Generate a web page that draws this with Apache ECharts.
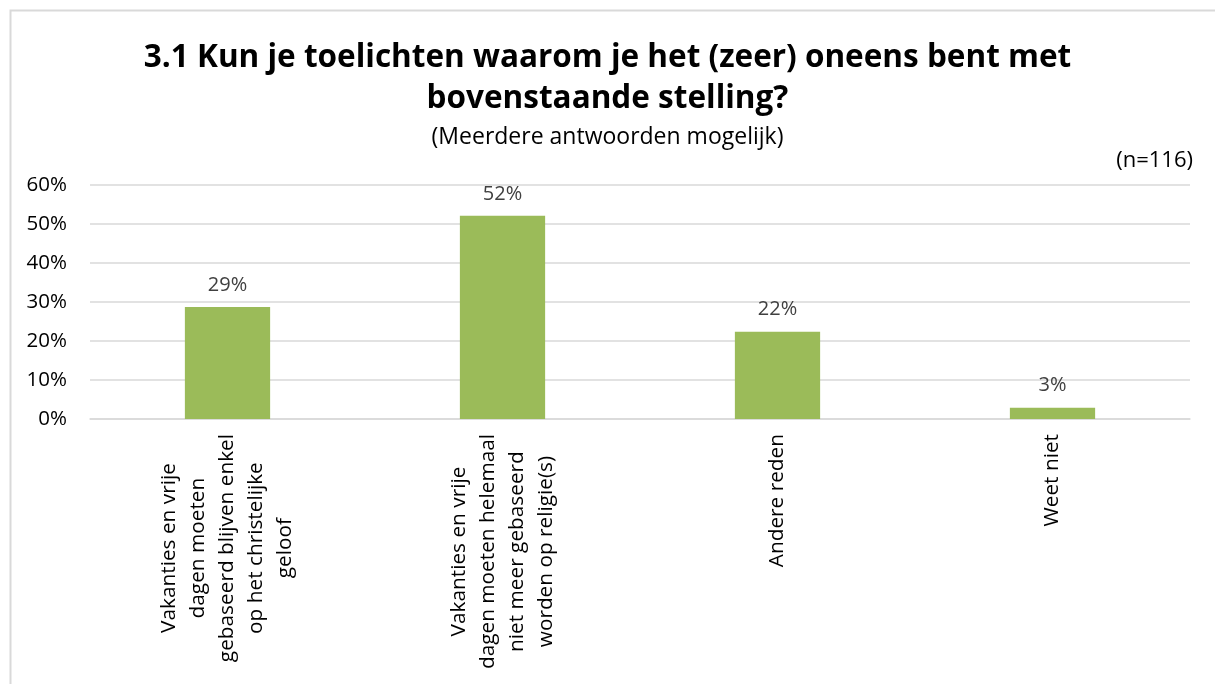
<!DOCTYPE html>
<html>
<head>
<meta charset="utf-8">
<script src="https://cdn.jsdelivr.net/npm/echarts@6/dist/echarts.min.js"></script>
<style>html,body{margin:0;padding:0;background:#fff}#c{width:1215px;height:684px}</style>
</head>
<body>
<div id="c"></div>
<script>
const categories = [
  "Vakanties en vrije\ndagen moeten\ngebaseerd blijven enkel\nop het christelijke\ngeloof",
  "Vakanties en vrije\ndagen moeten helemaal\nniet meer gebaseerd\nworden op religie(s)",
  "Andere reden",
  "Weet niet"
];
const values = [28.7, 52.1, 22.4, 2.9];
const yTicks = [0, 10, 20, 30, 40, 50, 60];
const titleText = "3.1 Kun je toelichten waarom je het (zeer) oneens bent met\nbovenstaande stelling?";
const subtitleText = "(Meerdere antwoorden mogelijk)";
const nText = "(n=116)";

const FONT = "Open Sans";
const chart = echarts.init(document.getElementById('c'), null, {renderer: 'canvas'});
chart.setOption({
  backgroundColor: '#fff',
  animation: false,
  title: [
    {text: titleText, left: 'center', top: 33,
     textStyle: {fontFamily: FONT, fontWeight: 'bold', fontSize: 31.5, lineHeight: 41, color: '#000'}},
    {text: subtitleText, left: 'center', top: 121,
     textStyle: {fontFamily: FONT, fontWeight: 'normal', fontSize: 23, color: '#000'}},
    {text: nText, right: 17, top: 145,
     textStyle: {fontFamily: FONT, fontWeight: 'normal', fontSize: 22, color: '#000'}}
  ],
  graphic: [{
    type: 'rect', left: 8, top: 8, shape: {width: 1240, height: 720},
    style: {fill: 'none', stroke: '#D9D9D9', lineWidth: 2}, silent: true
  }],
  grid: {left: 90, right: 25, top: 185, bottom: 265},
  xAxis: {
    type: 'category', data: categories,
    axisLine: {lineStyle: {color: '#D9D9D9', width: 1.5}},
    axisTick: {show: false},
    axisLabel: {
      rotate: 90, margin: 15, interval: 0,
      fontFamily: FONT, fontSize: 20.8, color: '#000', lineHeight: 29,
      formatter: v => v.split('\n').map(l => '{c|' + l + '}').join('\n'),
      rich: {c: {align: 'center', fontFamily: FONT, fontSize: 20.8, lineHeight: 29, color: '#000'}}
    }
  },
  yAxis: {
    type: 'value', min: 0, max: 60, interval: 10,
    axisLine: {show: false}, axisTick: {show: false},
    splitLine: {lineStyle: {color: '#D9D9D9', width: 1.5}},
    axisLabel: {
      margin: 23, fontFamily: FONT, fontSize: 20.5, color: '#000',
      formatter: v => yTicks.includes(v) ? v + '%' : ''
    }
  },
  series: [{
    type: 'bar', data: values, barWidth: '31%',
    itemStyle: {color: '#9BBB59'},
    label: {show: true, position: 'top', distance: 12,
      fontFamily: FONT, fontSize: 20, color: '#404040',
      formatter: p => Math.round(p.value) + '%'}
  }]
});
</script>
</body>
</html>
